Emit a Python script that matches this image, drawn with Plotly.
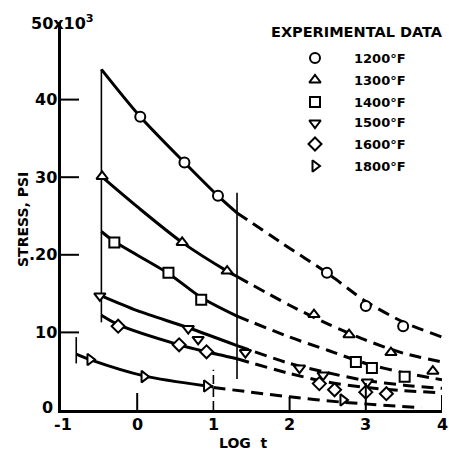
import plotly.graph_objects as go

# ---------------- data ----------------
temps = ["1200°F", "1300°F", "1400°F", "1500°F", "1600°F", "1800°F"]
symbols = ["circle", "triangle-up", "square", "triangle-down", "diamond", "triangle-right"]

# experimental points
pts_1200_x = [0.04, 0.62, 1.06, 2.49, 3.0, 3.49]
pts_1200_y = [37.8, 31.9, 27.6, 17.7, 13.4, 10.8]
pts_1300_x = [-0.46, 0.59, 1.18, 2.32, 2.78, 3.33, 3.88]
pts_1300_y = [30.1, 21.6, 17.9, 12.3, 9.7, 7.4, 5.0]
pts_1400_x = [-0.3, 0.41, 0.84, 2.87, 3.08, 3.51]
pts_1400_y = [21.6, 17.7, 14.2, 6.2, 5.4, 4.3]
pts_1500_x = [-0.49, 0.67, 0.8, 1.42, 2.13, 2.44, 3.02]
pts_1500_y = [14.7, 10.5, 9.1, 7.4, 5.4, 4.5, 3.6]
pts_1600_x = [-0.25, 0.55, 0.91, 2.39, 2.59, 3.0, 3.27]
pts_1600_y = [10.8, 8.4, 7.5, 3.4, 2.6, 2.3, 2.1]
pts_1800_x = [-0.62, 0.09, 0.91, 2.7]
pts_1800_y = [6.5, 4.3, 3.1, 1.3]

# fitted curves: solid (measured range) and dashed (extrapolated)
fit_1200_x = [-0.47, 0.04, 0.62, 1.06, 1.31]
fit_1200_y = [43.9, 37.8, 31.9, 27.6, 25.4]
ext_1200_x = [1.31, 1.9, 2.5, 3.0, 3.5, 4.0]
ext_1200_y = [25.4, 21.5, 17.6, 14.0, 11.3, 9.4]

fit_1300_x = [-0.47, 0.0, 0.59, 1.18, 1.31]
fit_1300_y = [30.1, 26.2, 21.6, 17.9, 17.2]
ext_1300_x = [1.31, 2.0, 2.5, 3.0, 3.5, 4.0]
ext_1300_y = [17.2, 13.5, 11.1, 9.0, 7.3, 6.2]

fit_1400_x = [-0.47, -0.3, 0.41, 0.84, 1.31]
fit_1400_y = [23.0, 21.7, 17.6, 14.5, 12.1]
ext_1400_x = [1.31, 2.0, 2.5, 3.0, 3.5, 4.0]
ext_1400_y = [12.1, 9.4, 7.7, 6.0, 4.8, 3.9]

fit_1500_x = [-0.47, 0.0, 0.67, 1.31]
fit_1500_y = [14.7, 12.8, 10.6, 8.3]
ext_1500_x = [1.31, 2.0, 2.5, 3.0, 3.5, 4.0]
ext_1500_y = [8.3, 6.0, 4.8, 3.8, 3.2, 2.8]

fit_1600_x = [-0.47, -0.25, 0.55, 0.91, 1.31]
fit_1600_y = [12.2, 11.0, 8.4, 7.5, 6.6]
ext_1600_x = [1.31, 2.0, 2.5, 3.0, 3.5, 4.0]
ext_1600_y = [6.6, 4.7, 3.6, 2.9, 2.5, 2.2]

fit_1800_x = [-0.8, -0.62, 0.09, 0.91, 1.0]
fit_1800_y = [7.2, 6.5, 4.4, 3.1, 3.0]
ext_1800_x = [1.0, 2.0, 2.7, 3.73]
ext_1800_y = [2.9, 1.7, 1.0, 0.3]

# vertical range markers
vline_x = [-0.47, 1.31, -0.8]
vline_y0 = [11.3, 4.0, 6.0]
vline_y1 = [43.9, 28.0, 9.4]
dash_vline_x = 1.0
dash_vline_y = [0.0, 5.2]

x_ticks = [-1, 0, 1, 2, 3, 4]
x_tick_labels = ["-1", "0", "1", "2", "3", "4"]
y_ticks = [0, 10, 20, 30, 40, 50]
y_tick_labels = ["0", "10", ".20", "30", "40", "50x10<sup>3</sup>"]

# ---------------- figure ----------------
FONT = "DejaVu Sans"
W, H = 449, 451
L, R, T, B = 61, 7, 22, 41
PW, PH = W - L - R, H - T - B


def px_x(px):
    return -1 + (px - L) / PW * 5


def px_y(py):
    return (H - B - py) / PH * 50


def paper_x(px):
    return (px - L) / PW


def paper_y(py):
    return (H - B - py) / PH


fig = go.Figure()

fits = [(fit_1200_x, fit_1200_y), (fit_1300_x, fit_1300_y), (fit_1400_x, fit_1400_y),
        (fit_1500_x, fit_1500_y), (fit_1600_x, fit_1600_y), (fit_1800_x, fit_1800_y)]
exts = [(ext_1200_x, ext_1200_y), (ext_1300_x, ext_1300_y), (ext_1400_x, ext_1400_y),
        (ext_1500_x, ext_1500_y), (ext_1600_x, ext_1600_y), (ext_1800_x, ext_1800_y)]
pts = [(pts_1200_x, pts_1200_y), (pts_1300_x, pts_1300_y), (pts_1400_x, pts_1400_y),
       (pts_1500_x, pts_1500_y), (pts_1600_x, pts_1600_y), (pts_1800_x, pts_1800_y)]

for (fx, fy) in fits:
    fig.add_trace(go.Scatter(x=fx, y=fy, mode="lines", showlegend=False,
                             line=dict(color="black", width=3, shape="spline", smoothing=0.8)))
for (ex, ey) in exts:
    fig.add_trace(go.Scatter(x=ex, y=ey, mode="lines", showlegend=False,
                             line=dict(color="black", width=3, shape="spline", smoothing=0.8,
                                       dash="12px,7px")))

# vertical markers
for vx, a, b in zip(vline_x, vline_y0, vline_y1):
    fig.add_trace(go.Scatter(x=[vx, vx], y=[a, b], mode="lines", showlegend=False,
                             line=dict(color="black", width=1.6)))
fig.add_trace(go.Scatter(x=[dash_vline_x, dash_vline_x], y=dash_vline_y, mode="lines",
                         showlegend=False, line=dict(color="black", width=1.6, dash="9px,4px")))

for (px_, py_), sym in zip(pts, symbols):
    fig.add_trace(go.Scatter(x=px_, y=py_, mode="markers", showlegend=False, cliponaxis=False,
                             marker=dict(symbol=sym, size=10, color="white",
                                         line=dict(color="black", width=2))))

# legend keys
legend_rows_py = [58, 80, 102, 123, 144, 166]
fig.add_trace(go.Scatter(x=[px_x(315)] * 6, y=[px_y(p) for p in legend_rows_py],
                         mode="markers", showlegend=False, cliponaxis=False,
                         marker=dict(symbol=symbols, size=10, color="white",
                                     line=dict(color="black", width=2))))

TXT = dict(family=FONT, size=14, color="black", weight="bold")
LEG = dict(family=FONT, size=13, color="black", weight="bold")
TTL = dict(family=FONT, size=14.5, color="black", weight="bold")
TICK = dict(family=FONT, size=16, color="black", weight="bold")

annotations = []
for t, py in zip(temps, legend_rows_py):
    annotations.append(dict(x=paper_x(352), y=paper_y(py), xref="paper", yref="paper",
                            text=t, showarrow=False, xanchor="left", yanchor="middle",
                            font=LEG))
annotations.append(dict(x=paper_x(357), y=paper_y(32), xref="paper", yref="paper",
                        text="EXPERIMENTAL DATA", showarrow=False, xanchor="center",
                        yanchor="middle", font=TTL))

# tick labels
for v, lab in zip(x_ticks, x_tick_labels):
    annotations.append(dict(x=v, y=0, xref="x", yref="paper", text=lab, showarrow=False,
                            xanchor="center", yanchor="top", yshift=-3,
                            xshift=2 if v == -1 else 0, font=TICK))
for v, lab in zip(y_ticks, y_tick_labels):
    if v == 50:
        annotations.append(dict(x=paper_x(62), y=v, xref="paper", yref="y", text=lab,
                                showarrow=False, xanchor="center", yanchor="middle",
                                font=TICK))
    elif v == 0:
        annotations.append(dict(x=0, y=v, xref="paper", yref="y", text=lab, showarrow=False,
                                xanchor="right", yanchor="middle", xshift=-6, yshift=3,
                                font=TICK))
    else:
        annotations.append(dict(x=0, y=v, xref="paper", yref="y", text=lab, showarrow=False,
                                xanchor="right", yanchor="middle", xshift=-2, font=TICK))

annotations.append(dict(x=paper_x(23), y=paper_y(220), xref="paper", yref="paper",
                        text="STRESS, PSI", showarrow=False, textangle=-90,
                        xanchor="center", yanchor="middle", font=TXT))
annotations.append(dict(x=paper_x(243), y=paper_y(443), xref="paper", yref="paper",
                        text="LOG  t", showarrow=False, xanchor="center", yanchor="middle",
                        font=TXT))

# inner tick marks
shapes = []
for v in [10, 20, 30, 40]:
    shapes.append(dict(type="line", xref="paper", yref="y", x0=0, x1=18 / PW, y0=v, y1=v,
                       line=dict(color="black", width=2)))
for v, hgt in zip([0, 2, 3, 4], [17, 13, 27, 15]):
    shapes.append(dict(type="line", xref="x", yref="paper", x0=v, x1=v, y0=0, y1=hgt / PH,
                       line=dict(color="black", width=2)))

fig.update_layout(
    width=W, height=H,
    margin=dict(l=L, r=R, t=T, b=B),
    paper_bgcolor="white", plot_bgcolor="white",
    showlegend=False,
    annotations=annotations,
    shapes=shapes,
    xaxis=dict(range=[-1, 4], showgrid=False, zeroline=False, showticklabels=False,
               ticks="", showline=True, linecolor="black", linewidth=2.5),
    yaxis=dict(range=[0, 50], showgrid=False, zeroline=False, showticklabels=False,
               ticks="", showline=True, linecolor="black", linewidth=2.5),
)

fig.write_html("out.html", config={"displayModeBar": False},
               post_script="document.body.style.margin='0';")
